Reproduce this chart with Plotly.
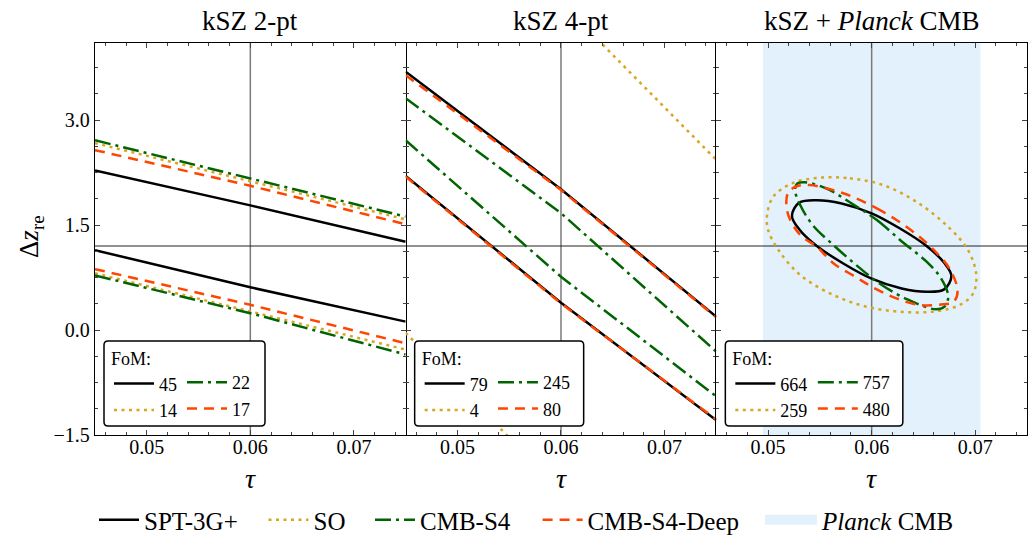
import plotly.graph_objects as go

FONT = "Liberation Serif"

# ---------------- data ----------------
tau_grid = [0.045, 0.060, 0.075]

# kSZ 2-pt : upper / lower boundary lines
p1_spt_up = [2.28, 1.78, 1.26]
p1_spt_lo = [1.14, 0.61, 0.12]
p1_so_up = [2.67, 2.13, 1.58]
p1_so_lo = [0.81, 0.27, -0.28]
p1_s4_up = [2.71, 2.17, 1.62]
p1_s4_lo = [0.78, 0.24, -0.35]
p1_deep_up = [2.57, 2.06, 1.51]
p1_deep_lo = [0.87, 0.36, -0.19]

# kSZ 4-pt
p2_spt_up = [3.69, 2.01, 0.19]
p2_spt_lo = [2.20, 0.39, -1.29]
p2_s4_up = [3.31, 1.67, -0.31]
p2_s4_lo = [2.71, 0.76, -0.95]
p2_deep_up = [3.64, 2.00, 0.18]
p2_deep_lo = [2.19, 0.38, -1.28]
p2_so_up_tau = [0.063, 0.075]
p2_so_up = [4.23, 2.43]
p2_so_lo_tau = [0.045, 0.0555]
p2_so_lo = [-0.04, -1.61]

# kSZ + Planck CMB : closed contours
p3_spt_tau = [0.0600, 0.0627, 0.0653, 0.0670, 0.0677, 0.0670, 0.0653, 0.0629, 0.0600,
              0.0573, 0.0547, 0.0530, 0.0523, 0.0530, 0.0547, 0.0571, 0.0600]
p3_spt_dz = [1.667, 1.453, 1.200, 0.960, 0.770, 0.580, 0.545, 0.592, 0.733,
             0.947, 1.200, 1.440, 1.630, 1.820, 1.855, 1.808, 1.667]
p3_so_tau = [0.0550, 0.0579, 0.0611, 0.0643, 0.0672, 0.0693, 0.0701, 0.0698, 0.0685, 0.0659,
             0.0627, 0.0595, 0.0563, 0.0531, 0.0510, 0.0500, 0.0499, 0.0505, 0.0523, 0.0550]
p3_so_dz = [2.176, 2.167, 2.071, 1.833, 1.500, 1.143, 0.786, 0.524, 0.357, 0.262,
            0.262, 0.333, 0.500, 0.786, 1.143, 1.429, 1.643, 1.905, 2.095, 2.176]
p3_s4_tau = [0.0582, 0.0605, 0.0630, 0.0653, 0.0667, 0.0674, 0.0670, 0.0662, 0.0634, 0.0608,
             0.0585, 0.0563, 0.0543, 0.0531, 0.0526, 0.0528, 0.0535, 0.0556, 0.0582]
p3_s4_dz = [1.795, 1.571, 1.253, 0.976, 0.738, 0.476, 0.330, 0.295, 0.440, 0.660,
            0.929, 1.214, 1.500, 1.786, 2.000, 2.090, 2.110, 2.024, 1.795]
p3_deep_tau = [0.0585, 0.0605, 0.0624, 0.0642, 0.0660, 0.0675, 0.0683, 0.0679, 0.0669, 0.0646,
               0.0624, 0.0603, 0.0584, 0.0563, 0.0547, 0.0531, 0.0519, 0.0519, 0.0527, 0.0540,
               0.0565, 0.0585]
p3_deep_dz = [1.881, 1.738, 1.571, 1.381, 1.143, 0.881, 0.557, 0.400, 0.367, 0.357,
              0.452, 0.595, 0.762, 0.953, 1.190, 1.357, 1.667, 1.952, 2.050, 2.071,
              1.990, 1.881]

fom_2pt = ["45", "14", "22", "17"]      # SPT-3G+, SO, CMB-S4, CMB-S4-Deep
fom_4pt = ["79", "4", "245", "80"]
fom_cmb = ["664", "259", "757", "480"]

experiments = ["SPT-3G+", "SO", "CMB-S4", "CMB-S4-Deep"]
panel_titles = ["kSZ 2-pt", "kSZ 4-pt", "kSZ + <i>Planck</i> CMB"]
tau_fid = 0.06
dz_fid = 1.2
planck_tau = [0.0495, 0.0705]
planck_label = "<i>Planck</i> CMB"

x_ticks = [0.05, 0.06, 0.07]
x_ticktext = ["0.05", "0.06", "0.07"]
y_ticks = [-1.5, 0.0, 1.5, 3.0]
y_ticktext = ["\u22121.5", "0.0", "1.5", "3.0"]

# ---------------- styles ----------------
colors = ["#000000", "#DAA520", "#006400", "#FF4500"]
dashes = ["solid", "3px,4.5px", "16px,5px,3px,5px", "10px,7px"]
LW = 2.5
band_color = "#E2F1FB"

W, H = 1029, 539
ML, MR, MT, MB = 95, 2, 43, 104
PW = W - ML - MR
PH = H - MT - MB


def px_x(p):
    return (p - ML) / PW


def px_y(p):
    return (H - MB - p) / PH


fig = go.Figure()


def pair(tau, up, lo):
    return list(tau) + [None] + list(tau), list(up) + [None] + list(lo)


panel1 = [pair(tau_grid, p1_spt_up, p1_spt_lo), pair(tau_grid, p1_so_up, p1_so_lo),
          pair(tau_grid, p1_s4_up, p1_s4_lo), pair(tau_grid, p1_deep_up, p1_deep_lo)]
so2x = list(p2_so_up_tau) + [None] + list(p2_so_lo_tau)
so2y = list(p2_so_up) + [None] + list(p2_so_lo)
panel2 = [pair(tau_grid, p2_spt_up, p2_spt_lo), (so2x, so2y),
          pair(tau_grid, p2_s4_up, p2_s4_lo), pair(tau_grid, p2_deep_up, p2_deep_lo)]
panel3 = [(p3_spt_tau, p3_spt_dz), (p3_so_tau, p3_so_dz),
          (p3_s4_tau, p3_s4_dz), (p3_deep_tau, p3_deep_dz)]

panels = [panel1, panel2, panel3]
foms = [fom_2pt, fom_4pt, fom_cmb]
axes = [("x", "y"), ("x2", "y2"), ("x3", "y3")]

for pi, (panel, fom, (xa, ya)) in enumerate(zip(panels, foms, axes)):
    for ei, (xs, ys) in enumerate(panel):
        leg_idx = 2 * pi + (1 if ei < 2 else 2)
        legname = "legend" if leg_idx == 1 else f"legend{leg_idx}"
        fig.add_trace(go.Scatter(
            x=xs, y=ys, mode="lines", xaxis=xa, yaxis=ya,
            line=dict(color=colors[ei], dash=dashes[ei], width=LW,
                      shape="spline" if pi == 2 else "linear", smoothing=1.0),
            name=fom[ei], legend=legname, showlegend=True, hoverinfo="skip"))

# bottom shared legend entries (one small legend each)
for ei, name in enumerate(experiments):
    fig.add_trace(go.Scatter(x=[None], y=[None], mode="lines", name=name,
                             line=dict(color=colors[ei], dash=dashes[ei], width=LW),
                             legend=f"legend{7 + ei}", hoverinfo="skip"))
fig.add_trace(go.Scatter(x=[None], y=[None], mode="lines", name=planck_label,
                         line=dict(color=band_color, width=22),
                         legend="legend11", hoverinfo="skip"))

# ---------------- axes ----------------
third = 1.0 / 3.0
domains = [[0, third], [third, 2 * third], [2 * third, 1]]
common_axis = dict(linecolor="black", linewidth=1.3, mirror="allticks",
                   ticks="inside", ticklen=5, tickwidth=1, tickcolor="#444",
                   showgrid=False, zeroline=False,
                   tickfont=dict(family=FONT, size=20, color="black"))
for i in range(3):
    sx = "" if i == 0 else str(i + 1)
    fig.layout["xaxis" + sx] = dict(
        common_axis, showline=True, domain=domains[i], range=[0.045, 0.075], anchor="y" + sx,
        tickvals=x_ticks, ticktext=x_ticktext, ticklabelstandoff=-6,
        minor=dict(dtick=0.002, tick0=0, ticks="inside", ticklen=3, tickcolor="#444",
                   showgrid=False))
    fig.layout["yaxis" + sx] = dict(
        common_axis, showline=(i != 1), domain=[0, 1], range=[-1.5, 4.1], anchor="x" + sx,
        tickvals=y_ticks, ticktext=y_ticktext, showticklabels=(i == 0),
        minor=dict(dtick=0.375, tick0=0, ticks="inside", ticklen=3, tickcolor="#444",
                   showgrid=False))

# ---------------- shapes ----------------
shapes = []
shapes.append(dict(type="rect", xref="x3", yref="y3 domain", x0=planck_tau[0], x1=planck_tau[1],
                   y0=0, y1=1, fillcolor=band_color, line=dict(width=0), layer="below"))
for xa, ya in axes:
    shapes.append(dict(type="line", xref=xa, yref=f"{ya} domain",
                       x0=tau_fid, x1=tau_fid, y0=0, y1=1,
                       line=dict(color="#7a7a7a", width=1.5), layer="below"))
shapes.append(dict(type="line", xref="paper", yref="y", x0=0, x1=1, y0=dz_fid, y1=dz_fid,
                   line=dict(color="#222", width=1), layer="below"))


def rrect_path(x0, y0, x1, y1, r=4):
    # pixel box -> paper path with rounded corners
    X0, X1 = px_x(x0), px_x(x1)
    Y0, Y1 = px_y(y1), px_y(y0)  # bottom, top
    rx, ry = r / PW, r / PH
    return (f"M{X0 + rx},{Y0} L{X1 - rx},{Y0} Q{X1},{Y0} {X1},{Y0 + ry} "
            f"L{X1},{Y1 - ry} Q{X1},{Y1} {X1 - rx},{Y1} L{X0 + rx},{Y1} "
            f"Q{X0},{Y1} {X0},{Y1 - ry} L{X0},{Y0 + ry} Q{X0},{Y0} {X0 + rx},{Y0} Z")


panel_left = [ML + d[0] * PW for d in domains]
box_w = [161, 169, 177.5]
col2_off = [94, 94.3, 103.5]
for i in range(3):
    bx0 = panel_left[i] + 9
    shapes.append(dict(type="path", xref="paper", yref="paper",
                       path=rrect_path(bx0, 341, bx0 + box_w[i], 426),
                       fillcolor="white", line=dict(color="black", width=1.5), layer="above"))
fig.update_layout(shapes=shapes)

# ---------------- legends ----------------
leg_common = dict(bgcolor="rgba(0,0,0,0)", borderwidth=0, orientation="v",
                  font=dict(family=FONT, size=18, color="black"), itemwidth=40,
                  tracegroupgap=0, itemclick=False, itemdoubleclick=False,
                  xanchor="left", yanchor="top")
for i in range(3):
    n1 = "legend" if i == 0 else f"legend{2 * i + 1}"
    n2 = f"legend{2 * i + 2}"
    fig.layout[n1] = dict(leg_common, x=px_x(panel_left[i] + 14), y=px_y(342),
                          title=dict(text="FoM:", font=dict(family=FONT, size=18, color="black")))
    fig.layout[n2] = dict(leg_common, x=px_x(panel_left[i] + col2_off[i] - 7), y=px_y(364))

bottom_starts = [98, 267.5, 374, 541.6, 764]
for k, xs in enumerate(bottom_starts):
    fig.layout[f"legend{7 + k}"] = dict(
        bgcolor="rgba(0,0,0,0)", orientation="h", itemwidth=(52 if k == 4 else 40),
        font=dict(family=FONT, size=25, color="black"),
        x=px_x(xs - 4), y=px_y(520), xanchor="left", yanchor="middle",
        itemclick=False, itemdoubleclick=False)

# ---------------- annotations ----------------
ann = []
for i in range(3):
    cx = (domains[i][0] + domains[i][1]) / 2
    ann.append(dict(text=panel_titles[i], x=cx, y=px_y(21), xref="paper", yref="paper",
                    showarrow=False, xanchor="center", yanchor="middle",
                    font=dict(family=FONT, size=27, color="black")))
    ann.append(dict(text="<i>\u03c4</i>", x=cx, y=px_y(478), xref="paper", yref="paper",
                    showarrow=False, xanchor="center", yanchor="middle",
                    font=dict(family=FONT, size=28, color="black")))
ann.append(dict(text="\u0394<i>z</i><sub>re</sub>", x=px_x(31), y=px_y(237), xref="paper",
                yref="paper", showarrow=False, textangle=-90, xanchor="center",
                yanchor="middle", font=dict(family=FONT, size=27, color="black")))

fig.update_layout(annotations=ann, width=W, height=H,
                  margin=dict(l=ML, r=MR, t=MT, b=MB, pad=0, autoexpand=False),
                  plot_bgcolor="white", paper_bgcolor="white",
                  font=dict(family=FONT, color="black"))

fig.write_html("out.html", config={"displayModeBar": False},
               post_script="document.body.style.margin='0px';")
